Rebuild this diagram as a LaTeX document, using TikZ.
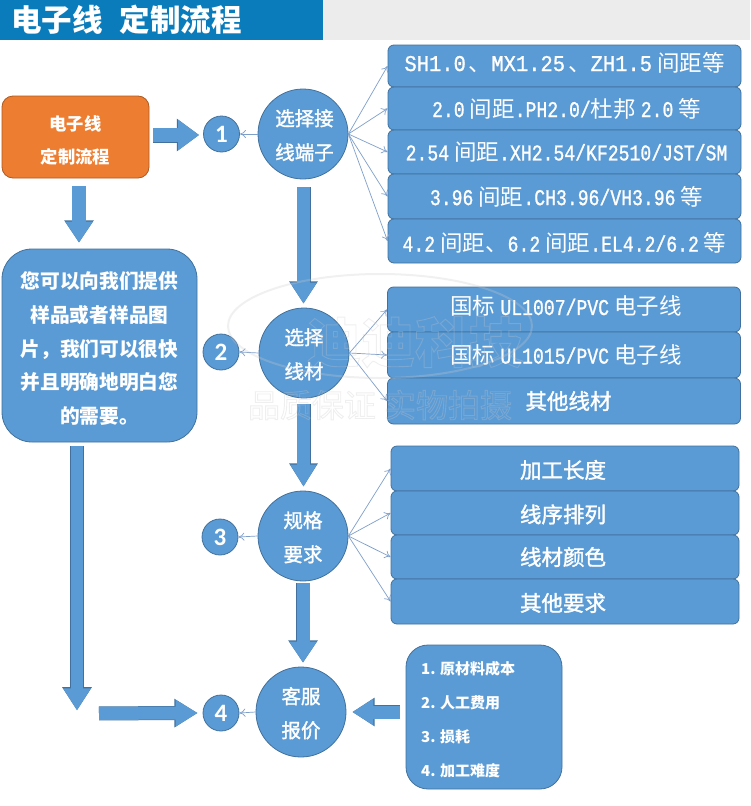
\documentclass[tikz,border=0pt]{standalone}
\usepackage{fontspec}
\usetikzlibrary{arrows.meta,calc}
\setmainfont{Noto Sans CJK SC}
\newfontfamily\cjk{Noto Sans CJK SC}
\newfontfamily\medcjk[FakeBold=1.6]{Noto Sans CJK SC}
\newfontfamily\monoA[FakeStretch=0.91,FakeBold=1]{Liberation Mono}
\newfontfamily\monoB[FakeStretch=0.805,FakeBold=1]{Liberation Mono}
\newfontfamily\numfont[BoldFont={Carlito Bold}]{Carlito}
\newcommand{\MA}[1]{{\monoA #1}}
\newcommand{\MB}[1]{{\monoB #1}}
\newcommand{\gp}{\hspace{5pt}}
\newcommand{\topgap}[1]{\rule{0pt}{#1}}
\newcommand{\botgap}[1]{\rule[-#1]{0pt}{#1}}
\definecolor{mainblue}{HTML}{5B9BD5}
\definecolor{edgeblue}{HTML}{41719C}
\definecolor{thinblue}{HTML}{7F9FCB}
\definecolor{orangefill}{HTML}{ED7D31}
\definecolor{orangeedge}{HTML}{AE5A21}
\definecolor{headblue}{HTML}{0A7CBC}
\definecolor{headgray}{HTML}{ECECEC}
\tikzset{
  optbox/.style={draw=edgeblue,line width=0.8pt,fill=mainblue,rounded corners=6pt,inner sep=0pt,
    text=white,font=\fontsize{22.5}{26}\selectfont},
  bigcircle/.style={circle,draw=edgeblue,line width=0.8pt,fill=mainblue,minimum size=90pt,inner sep=0pt,
    text=white,align=center,font=\fontsize{19.5}{34}\selectfont\medcjk},
  numcircle/.style={circle,draw=edgeblue,line width=0.8pt,fill=mainblue,minimum size=36pt,inner sep=0pt,
    text=white,font=\fontsize{25}{25}\selectfont\numfont\bfseries},
  thinarrow/.style={draw=thinblue,line width=0.7pt,-{To[length=6pt,width=8pt]}},
  bigarrow/.style n args={3}{draw=mainblue,line width=#1,line cap=butt,
    -{Triangle[length=#3,width=#2]},
    preaction={draw=edgeblue,line width=#1+1pt,-{Triangle[length=#3+1.2pt,width=#2+2pt]}}},
}
\begin{document}
\begin{tikzpicture}[x=1pt,y=-1pt]
\useasboundingbox (0,0) rectangle (750,806);
\fill[white] (0,0) rectangle (750,806);
% header
\node[fill=headblue,minimum width=323pt,minimum height=40pt,inner sep=0pt] (headbar) at (161.5,20) {};
\node[fill=headgray,minimum width=427pt,minimum height=40pt,inner sep=0pt] (headrest) at (536.5,20) {};
\node[anchor=west,inner sep=0pt,text=white,font=\fontsize{30.5}{30}\selectfont\bfseries] (title) at (11,20) {电子线\hspace{17pt}定制流程};
% left column
\node[draw=orangeedge,line width=0.8pt,fill=orangefill,rounded corners=11pt,minimum width=147pt,minimum height=82pt,inner sep=0pt,
  text=white,align=center,font=\fontsize{17.3}{33}\selectfont\bfseries] (start) at (75.5,137) {\topgap{21pt}电子线\\定制流程};
\node[draw=edgeblue,line width=0.8pt,fill=mainblue,rounded corners=30pt,minimum width=195pt,minimum height=193pt,inner sep=0pt,
  text=white,align=center,font=\fontsize{19.7}{33.8}\selectfont\bfseries] (intro) at (99.5,345.5) {\topgap{23pt}您可以向我们提供\\样品或者样品图\\片，我们可以很快\\并且明确地明白您\\的需要。};
% circles
\node[bigcircle] (c1) at (303,134) {\topgap{19pt}\hspace*{3pt}选择接\\\hspace*{3pt}线端子};
\node[bigcircle] (c2) at (304,353) {\topgap{19pt}选择\\线材};
\node[bigcircle] (c3) at (303,536) {\topgap{19pt}规格\\要求};
\node[bigcircle] (c4) at (301,712) {\topgap{19pt}客服\\报价};
\node[numcircle] (n1) at (221.5,134) {1};
\node[numcircle] (n2) at (221,352) {2};
\node[numcircle] (n3) at (220,537) {3};
\node[numcircle] (n4) at (221,713) {4};
% option boxes
\tikzset{g1/.style={optbox,minimum width=353pt}}
\node[g1,minimum height=42pt] (a1) at (564.5,66) {\botgap{9pt}\MA{SH1.0}\hspace{3pt}、\MA{MX1.25}\hspace{3pt}、\MA{ZH1.5}\gp 间距等};
\node[g1,minimum height=43pt] (a2) at (564.5,108.5) {\hspace*{4pt}\MB{2.0}\gp 间距\MB{.PH2.0/}杜邦\gp\MB{2.0}\gp 等};
\node[g1,minimum height=44pt] (a3) at (564.5,152) {\hspace*{4pt}\MB{2.54}\gp 间距\MB{.XH2.54/KF2510/JST/SM}};
\node[g1,minimum height=45pt] (a4) at (564.5,196.5) {\hspace*{4pt}\MB{3.96}\gp 间距\MB{.CH3.96/VH3.96}\gp 等};
\node[g1,minimum height=44pt] (a5) at (564.5,241) {\topgap{23pt}\MB{4.2}\gp 间距、\MB{6.2}\gp 间距\MB{.EL4.2/6.2}\gp 等};
\node[g1,minimum height=45pt] (b1) at (564,309.5) {\botgap{8pt}\hspace*{4pt}国标\gp\MB{UL1007/PVC}\gp 电子线};
\node[g1,minimum height=46pt] (b2) at (564,355) {\hspace*{4pt}国标\gp\MB{UL1015/PVC}\gp 电子线};
\node[g1,minimum height=46pt] (b3) at (564,401) {\hspace*{9pt}\fontsize{21.5}{26}\selectfont\medcjk 其他线材};
\tikzset{g3/.style={optbox,minimum width=348pt,font=\fontsize{21.5}{26}\selectfont\medcjk}}
\node[g3,minimum height=45pt] (d1) at (565,468.5) {\topgap{21pt}加工长度\hspace*{4pt}};
\node[g3,minimum height=44pt] (d2) at (565,513) {\topgap{21pt}线序排列\hspace*{4pt}};
\node[g3,minimum height=44pt] (d3) at (565,557) {线材颜色\hspace*{4pt}};
\node[g3,minimum height=45pt] (d4) at (565,601.5) {\topgap{21pt}其他要求\hspace*{4pt}};
% price box
\node[draw=edgeblue,line width=0.8pt,fill=mainblue,rounded corners=22pt,minimum width=156pt,minimum height=144pt,inner sep=0pt,
  text=white] (price) at (484,717) {};
\node[anchor=west,inner sep=0pt,text=white,align=left,font=\fontsize{15}{34}\selectfont\bfseries] (pricetext) at (421,720)
  {1. 原材料成本\\2. 人工费用\\3. 损耗\\4. 加工难度};
% thin connectors
\foreach \t in {a1,a2,a3,a4,a5}{\draw[thinarrow] (c1.east) -- (\t.west);}
\foreach \t in {b1,b2,b3}{\draw[thinarrow] (c2.east) -- (\t.west);}
\foreach \t in {d1,d2,d3,d4}{\draw[thinarrow] (c3.east) -- (\t.west);}
\draw[thinarrow] (c1.west) -- (n1.east);
\draw[thinarrow] (c2.west) -- (n2.east);
\draw[thinarrow] (c3.west) -- (n3.east);
\draw[thinarrow] (c4.west) -- (n4.east);
% block arrows
\draw[bigarrow={14pt}{29pt}{21pt}] ($(start.east)+(4,-2)$) -- ($(n1.west)+(-4,1)$);
\draw[bigarrow={13.5pt}{26pt}{21pt}] ($(start.south)+(3.5,8)$) -- ($(intro.north)+(-20.5,-6)$);
\draw[bigarrow={12.5pt}{26pt}{22pt}] ($(intro.south)+(-22.5,4)$) -- ($(intro.south)+(-22.5,268)$);
\draw[bigarrow={13pt}{25pt}{22pt}] ($(intro.south)+(-0.5,271)$) -- ($(n4.west)+(-5,0)$);
\draw[bigarrow={13pt}{25pt}{21pt}] ($(c1.south)+(0.5,8)$) -- ($(c2.north)+(-0.5,-4)$);
\draw[bigarrow={13pt}{25pt}{22pt}] ($(c2.south)+(-0.5,6)$) -- ($(c3.north)+(0.5,-4)$);
\draw[bigarrow={13pt}{26pt}{21pt}] ($(c3.south)+(0,2)$) -- ($(c4.north)+(2,-4)$);
\draw[bigarrow={13pt}{25pt}{21pt}] ($(price.west)+(-6,-5)$) -- ($(c4.east)+(6,0)$);
% watermark
\begin{scope}[opacity=0.28]
\draw[draw=black!20,line width=2pt] (380,326) ellipse [x radius=152,y radius=52];
\node[inner sep=0pt,font=\fontsize{54}{54}\selectfont\bfseries] (wm1) at (415,342) {\special{pdf:code 0.78 0.78 0.78 RG 0.9 w 1 Tr}迪迪科技\special{pdf:code 0 Tr}};
\node[inner sep=0pt,font=\fontsize{32}{32}\selectfont] (wm2) at (380,405) {\special{pdf:code 0.78 0.78 0.78 RG 0.9 w 1 Tr}品质保证\hspace{8pt}实物拍摄\special{pdf:code 0 Tr}};
\end{scope}
\end{tikzpicture}
\end{document}
